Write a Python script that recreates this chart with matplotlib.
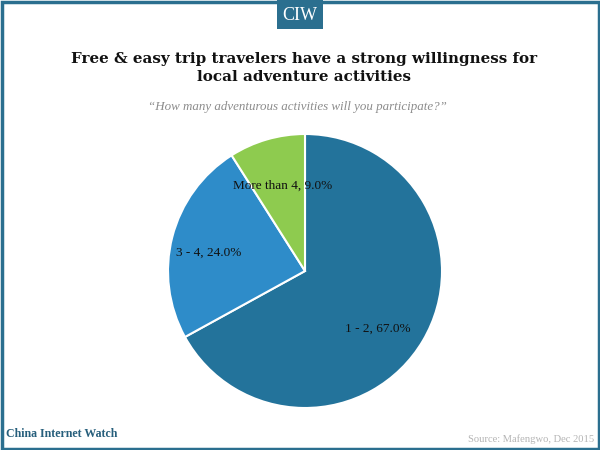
import matplotlib
matplotlib.use("Agg")
import matplotlib.pyplot as plt
from matplotlib.patches import Rectangle

categories = ["1 - 2", "3 - 4", "More than 4"]
shares = [67.0, 24.0, 9.0]
colors = ["#23739b", "#2e8cc9", "#8ecb4f"]
label_pos = [(0.53, -0.42), (-0.70, 0.13), (-0.165, 0.62)]

title = "Free & easy trip travelers have a strong willingness for\nlocal adventure activities"
subtitle = "\u201cHow many adventurous activities will you participate?\u201d"
brand = "China Internet Watch"
source = "Source: Mafengwo, Dec 2015"

W, H = 600, 450
fig = plt.figure(figsize=(W / 100, H / 100), dpi=100)
fig.patch.set_facecolor("white")

teal = "#2b6f8f"
# outer frame
fig.add_artist(Rectangle((1.5 / W, 1.5 / H), 1 - 3 / W, 1 - 3 / H, transform=fig.transFigure,
                         fill=False, edgecolor=teal, linewidth=2.5))
# header badge
fig.add_artist(Rectangle((277 / W, 1 - 29 / H), 46 / W, 29 / H, transform=fig.transFigure,
                         facecolor=teal, edgecolor="none"))
fig.text(300 / W, 1 - 15 / H, "CIW", ha="center", va="center", color="white",
         fontsize=13, family="Liberation Serif")

fig.text(304 / W, 1 - 68 / H, title, ha="center", va="center", fontsize=10.9,
         fontweight="bold", family="DejaVu Serif", linespacing=1.42, color="#111111")
fig.text(297 / W, 1 - 107 / H, subtitle, ha="center", va="center", fontsize=9.4,
         style="italic", family="Liberation Serif", color="#8c8c8c")

# pie area: center (305, 271), radius 137 px
cx, cy, r = 305, 271, 137
ax = fig.add_axes([(cx - r) / W, 1 - (cy + r) / H, 2 * r / W, 2 * r / H])
ax.pie(shares, colors=colors, startangle=90, counterclock=False,
       wedgeprops=dict(edgecolor="white", linewidth=1.5), radius=1.0)
ax.set_xlim(-1, 1)
ax.set_ylim(-1, 1)
ax.set_aspect("equal")
ax.axis("off")

for cat, val, (lx, ly) in zip(categories, shares, label_pos):
    ax.text(lx, ly, f"{cat}, {val:.1f}%", ha="center", va="center", fontsize=9.5,
            family="Liberation Serif", color="#111111")

fig.text(6 / W, 1 - 434 / H, brand, ha="left", va="center", fontsize=8.6,
         fontweight="bold", family="Liberation Serif", color="#275f7c")
fig.text(594 / W, 1 - 439 / H, source, ha="right", va="center", fontsize=7.6,
         family="Liberation Serif", color="#b5b5b5")

fig.savefig("out.png", dpi=100, facecolor="white")
